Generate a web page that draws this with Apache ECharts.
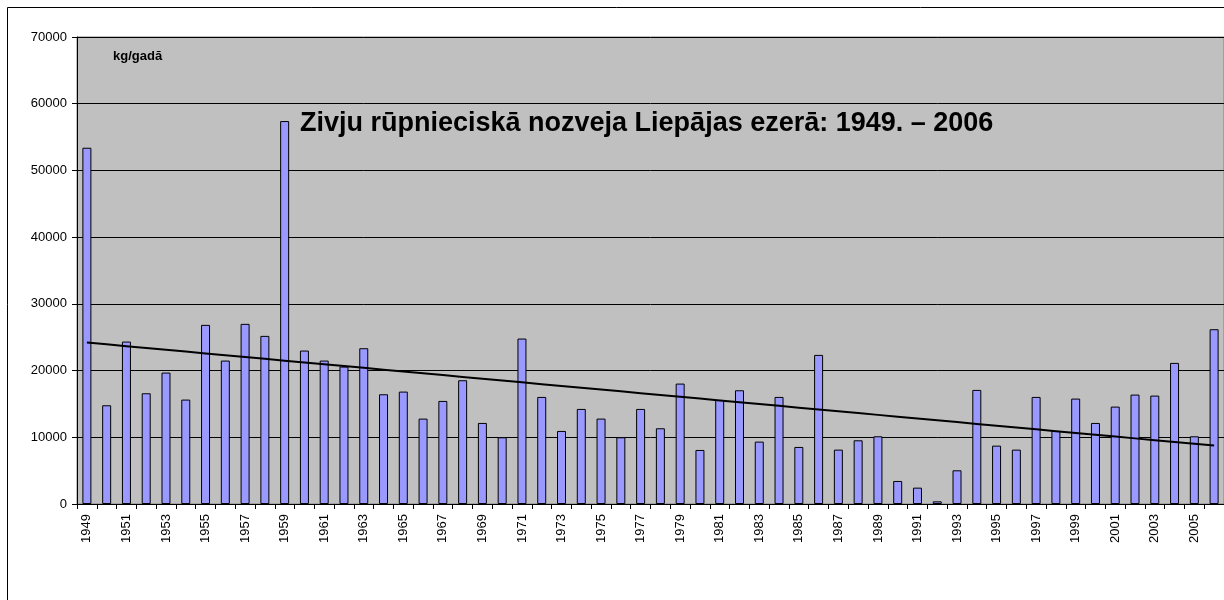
<!DOCTYPE html>
<html>
<head>
<meta charset="utf-8">
<script src="https://cdn.jsdelivr.net/npm/echarts@6/dist/echarts.min.js"></script>
<style>
  html, body { margin: 0; padding: 0; background: #fff; }
  #chart { width: 1224px; height: 600px; }
</style>
</head>
<body>
<div id="chart"></div>
<script>
// gadi (kategorijas)
var years = [
  '1949', '1950', '1951', '1952', '1953', '1954', '1955', '1956', '1957', '1958',
  '1959', '1960', '1961', '1962', '1963', '1964', '1965', '1966', '1967', '1968',
  '1969', '1970', '1971', '1972', '1973', '1974', '1975', '1976', '1977', '1978',
  '1979', '1980', '1981', '1982', '1983', '1984', '1985', '1986', '1987', '1988',
  '1989', '1990', '1991', '1992', '1993', '1994', '1995', '1996', '1997', '1998',
  '1999', '2000', '2001', '2002', '2003', '2004', '2005', '2006'
];

// nozveja, kg/gadā
var catchKg = [
  53400, 14800, 24350, 16600, 19700, 15650, 26850, 21500, 27000, 25200,
  57400, 23000, 21500, 20600, 23350, 16450, 16850, 12800, 15450, 18550,
  12150, 10000, 24800, 16050, 10950, 14250, 12800, 10000, 14250, 11350,
  18050, 8100, 15600, 17050, 9350, 16050, 8550, 22350, 8150, 9550,
  10150, 3450, 2450, 400, 5050, 17100, 8750, 8150, 16050, 10950,
  15800, 12150, 14600, 16400, 16250, 21150, 10150, 26200
];

var yMin = 0;
var yMax = 70000;
var yStep = 10000;

var titleText = 'Zivju rūpnieciskā nozveja Liepājas ezerā: 1949. – 2006';
var unitText = 'kg/gadā';

// lineārā trenda līnija (mazāko kvadrātu metode)
function linearTrend(values) {
  var n = values.length;
  var sx = 0, sy = 0, sxy = 0, sxx = 0;
  for (var i = 0; i < n; i++) {
    sx += i;
    sy += values[i];
    sxy += i * values[i];
    sxx += i * i;
  }
  var slope = (n * sxy - sx * sy) / (n * sxx - sx * sx);
  var intercept = (sy - slope * sx) / n;
  var out = [];
  for (var j = 0; j < n; j++) {
    out.push(intercept + slope * j);
  }
  return out;
}
var trend = linearTrend(catchKg);

var fontFamily = '"Liberation Sans", Arial, sans-serif';

var chart = echarts.init(document.getElementById('chart'), null, { renderer: 'canvas' });

var option = {
  backgroundColor: '#ffffff',
  animation: false,
  textStyle: { fontFamily: fontFamily },
  grid: {
    left: 77,
    top: 37,
    width: 1151,
    height: 467,
    show: true,
    backgroundColor: '#c0c0c0',
    borderColor: '#808080',
    borderWidth: 1,
    containLabel: false
  },
  xAxis: {
    type: 'category',
    data: years,
    boundaryGap: true,
    axisLine: { show: true, lineStyle: { color: '#000', width: 1 } },
    axisTick: { show: true, interval: 0, length: 5, lineStyle: { color: '#000' } },
    axisLabel: {
      interval: 1,
      rotate: 90,
      margin: 10,
      color: '#000',
      fontSize: 13,
      fontFamily: fontFamily
    },
    splitLine: { show: false }
  },
  yAxis: {
    type: 'value',
    min: yMin,
    max: yMax,
    interval: yStep,
    axisLine: { show: true, lineStyle: { color: '#000', width: 1 } },
    axisTick: { show: true, length: 5, lineStyle: { color: '#000' } },
    axisLabel: {
      margin: 10,
      color: '#000',
      fontSize: 13,
      fontFamily: fontFamily,
      formatter: function (v) { return String(v); }
    },
    splitLine: { show: true, lineStyle: { color: '#000', width: 1 } }
  },
  series: [
    {
      name: 'nozveja',
      type: 'bar',
      data: catchKg,
      barWidth: 9,
      itemStyle: {
        color: '#9999ff',
        borderColor: '#000',
        borderWidth: 1
      }
    },
    {
      name: 'trends',
      type: 'line',
      data: trend,
      symbol: 'none',
      lineStyle: { color: '#000', width: 2 },
      z: 5
    }
  ],
  graphic: [
    {
      type: 'rect',
      shape: { x: 7.5, y: 7.5, width: 1400, height: 800 },
      style: { fill: 'none', stroke: '#000', lineWidth: 1 },
      silent: true,
      z: 100
    },
    {
      type: 'text',
      left: 113,
      top: 50,
      style: {
        text: unitText,
        fill: '#000',
        font: 'bold 13px ' + fontFamily
      },
      z: 100
    },
    {
      type: 'text',
      left: 300,
      top: 110,
      style: {
        text: titleText,
        fill: '#000',
        font: 'bold 27px ' + fontFamily
      },
      z: 100
    }
  ]
};

chart.setOption(option);
</script>
</body>
</html>
